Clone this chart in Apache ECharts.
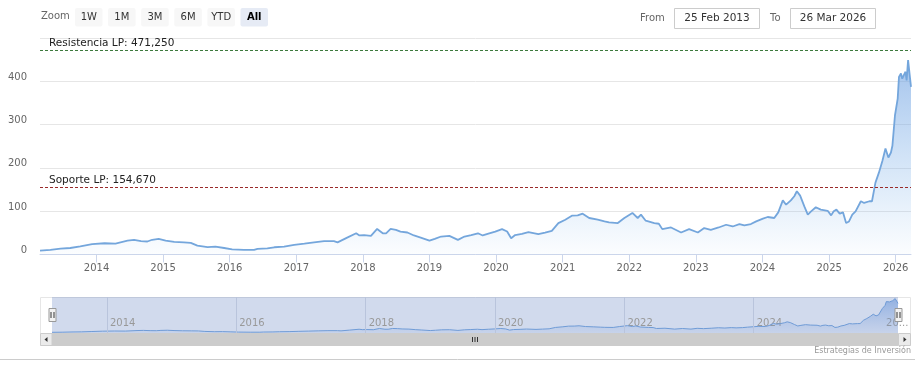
<!DOCTYPE html>
<html>
<head>
<meta charset="utf-8">
<script src="https://cdn.jsdelivr.net/npm/echarts@6/dist/echarts.min.js"></script>
<style>
  html, body { margin: 0; padding: 0; background: #ffffff; }
  #chart { width: 920px; height: 377px; }
</style>
</head>
<body>
<div id="chart"></div>
<script>
// weekly-ish closes
const dates = [
  '2013-02-25','2013-04-23','2013-06-18','2013-08-10','2013-10-04','2013-12-08',
  '2014-02-14','2014-04-15','2014-06-20','2014-07-26','2014-09-02','2014-10-07','2014-11-02','2014-12-08',
  '2015-01-15','2015-03-03','2015-04-25','2015-06-02','2015-07-08','2015-09-02','2015-10-15','2015-12-02',
  '2016-01-15','2016-03-20','2016-05-14','2016-06-02','2016-07-26','2016-09-02','2016-10-26','2016-12-20',
  '2017-02-14','2017-04-08','2017-06-02','2017-07-26','2017-08-15','2017-10-01','2017-11-25','2017-12-13',
  '2018-01-08','2018-02-14','2018-03-20','2018-04-20','2018-05-08','2018-06-02','2018-07-01','2018-07-26','2018-09-02','2018-10-08','2018-11-14',
  '2019-01-01','2019-01-30','2019-03-06','2019-04-20','2019-06-06','2019-07-12','2019-08-18','2019-09-24','2019-10-20','2019-11-25','2019-12-28',
  '2020-02-03','2020-03-02','2020-03-24','2020-04-15','2020-05-22','2020-06-27','2020-08-20','2020-09-26','2020-11-02','2020-12-08',
  '2021-01-15','2021-02-20','2021-03-24','2021-04-20','2021-05-26','2021-07-12','2021-08-18','2021-09-12','2021-10-30','2021-12-05',
  '2022-01-18','2022-02-16','2022-03-06','2022-04-01','2022-05-18','2022-06-12','2022-07-01','2022-08-18','2022-10-12','2022-11-25',
  '2023-01-12','2023-02-16','2023-03-24','2023-05-06','2023-06-16','2023-07-22','2023-08-28','2023-09-24','2023-10-30','2023-11-28',
  '2024-01-04','2024-01-30','2024-03-06','2024-03-28','2024-04-22','2024-05-10','2024-06-05','2024-06-24','2024-07-08','2024-07-26','2024-08-18','2024-09-06','2024-09-24','2024-10-20','2024-11-16','2024-12-24',
  '2025-01-12','2025-01-26','2025-02-10','2025-02-28','2025-03-18','2025-04-04','2025-04-20','2025-05-08','2025-05-26','2025-06-24','2025-07-12','2025-07-22','2025-08-10','2025-08-24','2025-09-12','2025-10-01','2025-10-20','2025-11-06','2025-11-22','2025-12-06','2025-12-14','2025-12-28',
  '2026-01-12','2026-01-19','2026-01-30','2026-02-06','2026-02-16','2026-02-24','2026-03-02','2026-03-10','2026-03-26'
];
const prices = [
  9, 10.5, 13.5, 15, 19, 24,
  26, 25, 32, 34, 31, 30, 34, 36,
  32, 29, 28, 27, 20.5, 17, 18, 15,
  12, 10.5, 10.5, 12.8, 14, 16.7, 18, 22,
  25, 28, 30.7, 30.7, 28, 37.7, 49, 44,
  44.7, 43, 59, 49, 49, 59, 57, 53, 50.8, 44, 39,
  32, 36, 41.5, 43, 33.8, 41.5, 45, 49, 44, 49, 53,
  58.6, 53, 37.7, 45, 47.7, 51.7, 47, 50.8, 54.7, 72.6,
  80.3, 89.6, 90.3, 94.3, 84.3, 80.3, 76.4, 74, 72.6, 84.3,
  96, 84.3, 92, 78, 72.6, 71, 58.6, 62.4, 50.8, 58.6,
  50.8, 61, 57, 62.4, 68.7, 64.7, 70.3, 67, 70.3, 76.4,
  82.7, 86.6, 84.3, 97.3, 125, 115, 125, 134.6, 146, 136, 111, 92, 99.7, 109, 103.6, 101,
  90.3, 100, 103.6, 94.3, 97.3, 72.6, 76.4, 92, 99.7, 123, 119, 115, 123, 123, 166, 189, 216, 245, 224, 235.6, 251, 321,
  360, 410, 418, 406, 415.6, 422, 402, 449, 387
];
const yTicks = [0, 100, 200, 300, 400, 500];
const navYears = [2014, 2016, 2018, 2020, 2022, 2024, 2026];
const zoomButtons = ['1W', '1M', '3M', '6M', 'YTD', 'All'];
const fromDate = '25 Feb 2013';
const toDate = '26 Mar 2026';
const levels = [
  { name: 'Resistencia LP', value: 471.25, color: '#3d7a3d' },
  { name: 'Soporte LP', value: 154.67, color: '#9a2a2a' }
];

const FONT = 'DejaVu Sans';
const seriesData = dates.map((d, i) => [d, prices[i]]);
const YEAR = 365 * 24 * 3600 * 1000;

const chart = echarts.init(document.getElementById('chart'), null, { renderer: 'canvas' });

// range selector / inputs / scrollbar drawn as plain graphics
const graphics = [];
graphics.push({ type: 'text', left: 41, top: 11, style: { text: 'Zoom', fill: '#666', font: '10px ' + FONT } });
zoomButtons.forEach((b, i) => {
  const x = 75 + i * 33.1;
  const selected = b === 'All';
  graphics.push({ type: 'rect', shape: { x: x, y: 8, width: 27.5, height: 18.5, r: 2 },
    style: { fill: selected ? '#e6ebf5' : '#f7f7f7' } });
  graphics.push({ type: 'text', x: x + 13.75, y: 17.5,
    style: { text: b, fill: selected ? '#000' : '#333', align: 'center', verticalAlign: 'middle',
      font: (selected ? 'bold ' : '') + '10px ' + FONT } });
});
graphics.push({ type: 'text', x: 640, y: 18, style: { text: 'From', fill: '#666', verticalAlign: 'middle', font: '10px ' + FONT } });
graphics.push({ type: 'rect', shape: { x: 674.5, y: 8.5, width: 85, height: 20 }, style: { fill: '#fff', stroke: '#cccccc', lineWidth: 1 } });
graphics.push({ type: 'text', x: 717, y: 18.5, style: { text: fromDate, fill: '#333', align: 'center', verticalAlign: 'middle', font: '10.5px ' + FONT } });
graphics.push({ type: 'text', x: 770, y: 18, style: { text: 'To', fill: '#666', verticalAlign: 'middle', font: '10px ' + FONT } });
graphics.push({ type: 'rect', shape: { x: 790.5, y: 8.5, width: 85, height: 20 }, style: { fill: '#fff', stroke: '#cccccc', lineWidth: 1 } });
graphics.push({ type: 'text', x: 833, y: 18.5, style: { text: toDate, fill: '#333', align: 'center', verticalAlign: 'middle', font: '10.5px ' + FONT } });

// navigator outline
graphics.push({ type: 'rect', shape: { x: 40.5, y: 297.5, width: 870, height: 36 }, style: { fill: 'none', stroke: '#e6e6e6', lineWidth: 1 }, z: -1 });
// scrollbar
graphics.push({ type: 'rect', shape: { x: 40, y: 333, width: 871, height: 13 }, style: { fill: '#f2f2f2' } });
graphics.push({ type: 'rect', shape: { x: 52, y: 333, width: 846, height: 13 }, style: { fill: '#cccccc' } });
graphics.push({ type: 'rect', shape: { x: 40.5, y: 333.5, width: 11.5, height: 12 }, style: { fill: '#ebebeb', stroke: '#cccccc' } });
graphics.push({ type: 'rect', shape: { x: 898.5, y: 333.5, width: 12, height: 12 }, style: { fill: '#ebebeb', stroke: '#cccccc' } });
graphics.push({ type: 'polygon', shape: { points: [[47.5, 337], [47.5, 342], [44.5, 339.5]] }, style: { fill: '#333' } });
graphics.push({ type: 'polygon', shape: { points: [[903.5, 337], [903.5, 342], [906.5, 339.5]] }, style: { fill: '#333' } });
[472.5, 475, 477.5].forEach(x => {
  graphics.push({ type: 'line', shape: { x1: x, y1: 337, x2: x, y2: 342 }, style: { stroke: '#333', lineWidth: 1 } });
});
// navigator handles
[52.5, 898.5].forEach(cx => {
  graphics.push({ type: 'rect', shape: { x: cx - 3.5, y: 308.5, width: 7, height: 13 }, style: { fill: '#f2f2f2', stroke: '#999', lineWidth: 1 }, z: 10 });
  graphics.push({ type: 'line', shape: { x1: cx - 1.5, y1: 312, x2: cx - 1.5, y2: 318 }, style: { stroke: '#333', lineWidth: 1 }, z: 11 });
  graphics.push({ type: 'line', shape: { x1: cx + 1.5, y1: 312, x2: cx + 1.5, y2: 318 }, style: { stroke: '#333', lineWidth: 1 }, z: 11 });
});
// footer
graphics.push({ type: 'line', shape: { x1: 0, y1: 359.5, x2: 915, y2: 359.5 }, style: { stroke: '#cccccc', lineWidth: 1 } });
graphics.push({ type: 'text', x: 911, y: 351, style: { text: 'Estrategias de Inversión', fill: '#999', align: 'right', verticalAlign: 'middle', font: '8px ' + FONT } });

const option = {
  backgroundColor: '#ffffff',
  animation: false,
  textStyle: { fontFamily: FONT },
  grid: [
    { left: 40, right: 9, top: 38, height: 216.5, outerBoundsMode: 'none' },
    { left: 52, right: 22, top: 297, height: 36, show: true, backgroundColor: 'rgba(102,133,194,0.3)', borderWidth: 0, outerBoundsMode: 'none' }
  ],
  xAxis: [
    {
      type: 'time', gridIndex: 0, min: dates[0], max: dates[dates.length - 1],
      splitNumber: 13, minInterval: YEAR, maxInterval: YEAR * 1.01,
      axisLine: { lineStyle: { color: '#ccd6eb', width: 1 } },
      axisTick: { show: true, length: 8, lineStyle: { color: '#ccd6eb' } },
      axisLabel: { color: '#666', fontSize: 10, fontFamily: FONT, margin: 9,
        formatter: v => String(new Date(v).getFullYear()) },
      splitLine: { show: false }
    },
    {
      type: 'time', gridIndex: 1, min: dates[0], max: dates[dates.length - 1],
      splitNumber: 13, minInterval: YEAR, maxInterval: YEAR * 1.01,
      axisLine: { show: false }, axisTick: { show: false },
      axisLabel: { inside: true, color: '#999', fontSize: 10, fontFamily: FONT, align: 'left', margin: 3,
        verticalAlign: 'bottom', padding: [0, 0, 2, 3],
        formatter: v => {
          const y = new Date(v).getFullYear();
          if (!navYears.includes(y)) return '';
          return y === 2026 ? '20...' : String(y);
        } },
      splitLine: { show: false }
    }
  ],
  yAxis: [
    {
      type: 'value', gridIndex: 0, min: yTicks[0], max: yTicks[yTicks.length - 1], interval: 100,
      axisLine: { show: false }, axisTick: { show: false },
      axisLabel: { color: '#666', fontSize: 10, fontFamily: FONT, margin: 13, verticalAlign: 'bottom',
        padding: [0, 0, -1, 0],
        formatter: v => (v === 500 ? '' : String(v)) },
      splitLine: { lineStyle: { color: '#e6e6e6' } }
    },
    { type: 'value', gridIndex: 1, min: 0, max: 470, show: false, splitLine: { show: false } }
  ],
  series: [
    {
      type: 'line', xAxisIndex: 0, yAxisIndex: 0, data: seriesData,
      showSymbol: false, symbol: 'none',
      lineStyle: { color: '#74a6dc', width: 1.8 },
      areaStyle: {
        color: new echarts.graphic.LinearGradient(0, 0, 0, 1, [
          { offset: 0, color: 'rgba(110,160,225,0.9)' },
          { offset: 1, color: 'rgba(124,181,236,0.04)' }
        ])
      },
      markLine: {
        silent: true, symbol: 'none', animation: false,
        data: levels.map(l => ({
          yAxis: l.value,
          lineStyle: { color: l.color, type: [3, 2], width: 1 },
          label: { formatter: l.name + ': ' + l.value.toFixed(3).replace('.', ',') }
        })),
        label: { position: 'insideStartTop', color: '#222', fontSize: 10.5, fontFamily: FONT, distance: [9, 2] }
      }
    },
    {
      type: 'line', xAxisIndex: 1, yAxisIndex: 1, data: seriesData,
      showSymbol: false, symbol: 'none',
      lineStyle: { color: '#6f9bd6', width: 1 },
      areaStyle: {
        color: new echarts.graphic.LinearGradient(0, 0, 0, 1, [
          { offset: 0, color: 'rgba(90,140,215,0.75)' },
          { offset: 1, color: 'rgba(110,150,215,0.15)' }
        ])
      },
      markLine: {
        silent: true, symbol: 'none', animation: false, label: { show: false },
        lineStyle: { color: '#b9c4dc', type: 'solid', width: 1 },
        data: navYears.slice(0, -1).map(y => ({ xAxis: y + '-01-01' }))
      }
    }
  ],
  graphic: graphics
};

chart.setOption(option);
</script>
</body>
</html>
